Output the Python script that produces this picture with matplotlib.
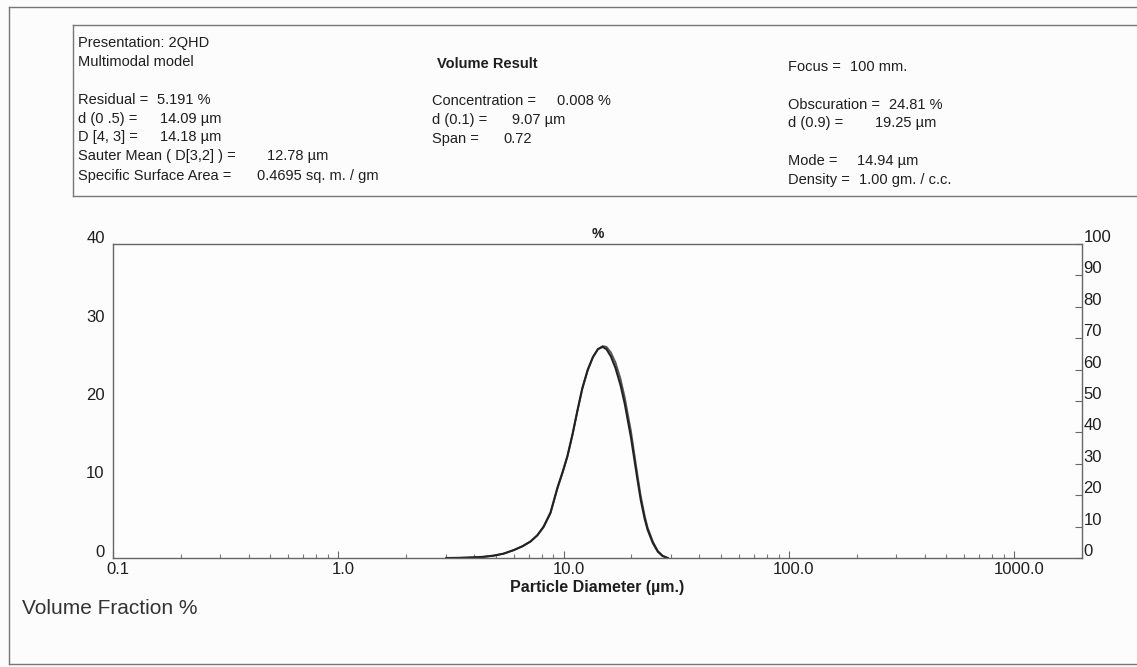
import matplotlib
matplotlib.use("Agg")
import matplotlib.pyplot as plt
from matplotlib.lines import Line2D
from matplotlib.transforms import ScaledTranslation

plt.rcParams['font.family'] = ['Liberation Sans', 'DejaVu Sans']

# ---- data -------------------------------------------------------------
diameter_um = [3.02, 3.48, 3.98, 4.41, 4.89, 5.41, 6.00, 6.57, 7.13, 7.65,
               8.15, 8.75, 9.40, 9.91, 10.4, 10.96, 11.5, 12.1, 12.8, 13.5,
               14.2, 14.9, 15.5, 16.2, 17.0, 17.9, 18.7, 19.2, 19.9, 20.5,
               21.3, 22.0, 22.9, 23.6, 24.9, 26.2, 27.5, 29.0]
measured_pct = [0.0, 0.02, 0.08, 0.15, 0.30, 0.55, 1.0, 1.5, 2.1, 2.9,
                4.0, 5.8, 9.0, 11.0, 13.0, 15.8, 18.7, 21.6, 24.0, 25.6,
                26.6, 26.9, 26.6, 25.7, 24.2, 22.0, 19.6, 17.8, 15.4, 13.0,
                9.9, 7.4, 5.0, 3.6, 1.9, 0.8, 0.25, 0.0]
fitted_pct = [0.0, 0.02, 0.08, 0.15, 0.30, 0.55, 1.0, 1.5, 2.1, 2.9,
              3.9, 5.7, 8.9, 10.9, 12.9, 15.7, 18.6, 21.5, 23.9, 25.6,
              26.6, 27.0, 26.9, 26.2, 24.9, 22.8, 20.4, 18.6, 16.2, 13.7,
              10.5, 7.9, 5.4, 3.9, 2.1, 0.9, 0.3, 0.0]

x_ticks = [0.1, 1.0, 10.0, 100.0, 1000.0]
x_tick_labels = ['0.1', '1.0', '10.0', '100.0', '1000.0']
y_ticks = [0, 10, 20, 30, 40]
cum_ticks = list(range(0, 101, 10))

info_left = [
    ("Presentation: 2QHD", None, 43),
    ("Multimodal model", None, 62),
    ("Residual =", "5.191 %", 100),
    ("d (0 .5) =", "14.09 µm", 119),
    ("D [4, 3] =", "14.18 µm", 137),
    ("Sauter Mean ( D[3,2] ) =", "12.78 µm", 156),
    ("Specific Surface Area =", "0.4695 sq. m. / gm", 176),
]
info_mid = [
    ("Concentration =", "0.008 %", 101),
    ("d (0.1) =", "9.07 µm", 120),
    ("Span =", "0.72", 139),
]
info_right = [
    ("Focus =", "100 mm.", 67),
    ("Obscuration =", "24.81 %", 105),
    ("d (0.9) =", "19.25 µm", 123),
    ("Mode =", "14.94 µm", 161),
    ("Density =", "1.00 gm. / c.c.", 180),
]

# ---- figure -----------------------------------------------------------
W, H = 1137, 667
fig = plt.figure(figsize=(W / 100, H / 100), dpi=100, facecolor='#fcfcfc')
renderer = fig.canvas.get_renderer()


def fx(px):
    return px / W


def fy(py):
    return 1 - py / H


def hline(x0, x1, y, **kw):
    fig.add_artist(Line2D([fx(x0), fx(x1)], [fy(y), fy(y)], transform=fig.transFigure, **kw))


def vline(x, y0, y1, **kw):
    fig.add_artist(Line2D([fx(x), fx(x)], [fy(y0), fy(y1)], transform=fig.transFigure, **kw))


frame_kw = dict(color='#777777', lw=1.0)
# outer page frame
hline(9, W, 7, **frame_kw)
vline(9, 7, 664, **frame_kw)
hline(9, W, 664, **frame_kw)
# results box
hline(73, W, 25, **frame_kw)
vline(73, 25, 196, **frame_kw)
hline(73, W, 196, **frame_kw)

txt_kw = dict(fontsize=10.5, color='#1e1e1e', va='center', ha='left')


def put(label, value, x, y, value_x):
    t = fig.text(fx(x), fy(y), label, **txt_kw)
    if value is not None:
        label_end = t.get_window_extent(renderer).x1
        vx = max(value_x, label_end + 9)
        fig.text(fx(vx), fy(y), value, **txt_kw)


value_x_left = {100: 147, 119: 160, 137: 160, 156: 267, 176: 257}
for lab, val, y in info_left:
    put(lab, val, 78, y, value_x_left.get(y, 0))

fig.text(fx(437), fy(64), "Volume Result", fontsize=10.5, fontweight='bold',
         color='#1e1e1e', va='center', ha='left')
value_x_mid = {101: 557, 120: 512, 139: 503}
for lab, val, y in info_mid:
    put(lab, val, 432, y, value_x_mid[y])

value_x_right = {67: 840, 105: 875, 123: 875, 161: 857, 180: 843}
for lab, val, y in info_right:
    put(lab, val, 788, y, value_x_right[y])

# ---- plot -------------------------------------------------------------
ax = fig.add_axes([fx(113), fy(558), fx(1082) - fx(113), fy(244) - fy(558)])
ax.set_facecolor('#fdfdfd')
ax.plot(diameter_um, fitted_pct, color='#555555', lw=1.3, solid_joinstyle='round')
ax.plot(diameter_um, measured_pct, color='#222222', lw=1.5, solid_joinstyle='round')

ax.set_xscale('log')
ax.set_xlim(0.1, 2000)
ax.set_ylim(0, 40)

for side in ('top', 'bottom', 'left', 'right'):
    ax.spines[side].set_color('#666666')
    ax.spines[side].set_linewidth(1.0)

ax.set_xticks(x_ticks)
ax.set_xticklabels(x_tick_labels)
ax.tick_params(axis='x', which='major', direction='in', length=5, width=0.8,
               color='#666666', labelsize=12, labelcolor='#1e1e1e', pad=3)
ax.tick_params(axis='x', which='minor', direction='in', length=3, width=0.8,
               color='#777777')
for lbl in ax.get_xticklabels():
    lbl.set_transform(lbl.get_transform() + ScaledTranslation(5 / 100, 0, fig.dpi_scale_trans))

ax.set_yticks(y_ticks)
ax.tick_params(axis='y', which='both', length=0, labelsize=12, labelcolor='#1e1e1e', pad=6)
for lbl in ax.get_yticklabels():
    lbl.set_transform(lbl.get_transform() + ScaledTranslation(0, 7 / 100, fig.dpi_scale_trans))

ax2 = ax.twinx()
ax2.set_ylim(0, 100)
ax2.set_yticks(cum_ticks)
ax2.tick_params(axis='y', direction='in', length=5, width=0.8, color='#666666',
                labelsize=12, labelcolor='#1e1e1e', pad=1)
for lbl in ax2.get_yticklabels():
    lbl.set_transform(lbl.get_transform() + ScaledTranslation(0, 8 / 100, fig.dpi_scale_trans))
for side in ('top', 'bottom', 'left', 'right'):
    ax2.spines[side].set_visible(False)

ax.text(0.5, 1.0, '%', transform=ax.transAxes + ScaledTranslation(0, 10 / 100, fig.dpi_scale_trans),
        fontsize=10, fontweight='bold', ha='center', va='center', color='#1e1e1e')

ax.set_xlabel('Particle Diameter (µm.)', fontsize=11.5, fontweight='bold',
              color='#1e1e1e', labelpad=2)

fig.text(fx(22), fy(608), 'Volume Fraction %', fontsize=15, color='#333333',
         va='center', ha='left')

fig.savefig('out.png', dpi=100, facecolor=fig.get_facecolor())
